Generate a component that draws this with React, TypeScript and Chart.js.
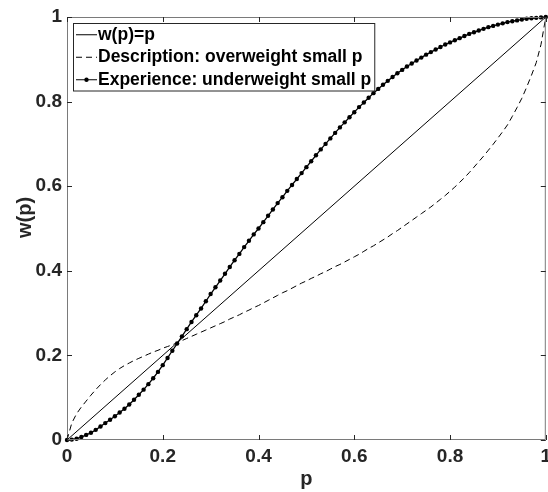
import React, { useEffect, useRef } from 'react';
import { Chart, registerables } from 'chart.js';

Chart.register(...registerables);

const pGrid = [
  0.00, 0.01, 0.02, 0.03, 0.04, 0.05, 0.06, 0.07, 0.08, 0.09,
  0.10, 0.11, 0.12, 0.13, 0.14, 0.15, 0.16, 0.17, 0.18, 0.19,
  0.20, 0.21, 0.22, 0.23, 0.24, 0.25, 0.26, 0.27, 0.28, 0.29,
  0.30, 0.31, 0.32, 0.33, 0.34, 0.35, 0.36, 0.37, 0.38, 0.39,
  0.40, 0.41, 0.42, 0.43, 0.44, 0.45, 0.46, 0.47, 0.48, 0.49,
  0.50, 0.51, 0.52, 0.53, 0.54, 0.55, 0.56, 0.57, 0.58, 0.59,
  0.60, 0.61, 0.62, 0.63, 0.64, 0.65, 0.66, 0.67, 0.68, 0.69,
  0.70, 0.71, 0.72, 0.73, 0.74, 0.75, 0.76, 0.77, 0.78, 0.79,
  0.80, 0.81, 0.82, 0.83, 0.84, 0.85, 0.86, 0.87, 0.88, 0.89,
  0.90, 0.91, 0.92, 0.93, 0.94, 0.95, 0.96, 0.97, 0.98, 0.99,
  1.00,
];

const experienceW = [
  0.000, 0.001, 0.003, 0.007, 0.012, 0.017, 0.024, 0.032, 0.040, 0.048,
  0.056, 0.065, 0.074, 0.084, 0.095, 0.107, 0.119, 0.132, 0.146, 0.161,
  0.177, 0.194, 0.211, 0.228, 0.245, 0.262, 0.279, 0.295, 0.311, 0.328,
  0.345, 0.361, 0.377, 0.393, 0.409, 0.425, 0.440, 0.456, 0.471, 0.486,
  0.500, 0.515, 0.530, 0.545, 0.560, 0.574, 0.589, 0.603, 0.617, 0.631,
  0.645, 0.659, 0.673, 0.687, 0.700, 0.713, 0.726, 0.739, 0.751, 0.763,
  0.775, 0.787, 0.798, 0.809, 0.820, 0.830, 0.840, 0.849, 0.858, 0.867,
  0.875, 0.883, 0.890, 0.897, 0.904, 0.911, 0.917, 0.923, 0.929, 0.935,
  0.940, 0.945, 0.950, 0.955, 0.960, 0.964, 0.968, 0.972, 0.976, 0.979,
  0.982, 0.985, 0.988, 0.990, 0.992, 0.994, 0.996, 0.997, 0.998, 0.999,
  1.000,
];

const descriptionW = [
  0.000, 0.040, 0.062, 0.078, 0.092, 0.106, 0.119, 0.131, 0.142, 0.152,
  0.161, 0.169, 0.176, 0.182, 0.188, 0.193, 0.198, 0.203, 0.208, 0.212,
  0.217, 0.221, 0.225, 0.230, 0.235, 0.240, 0.245, 0.250, 0.255, 0.260,
  0.265, 0.270, 0.275, 0.280, 0.286, 0.291, 0.296, 0.302, 0.307, 0.313,
  0.318, 0.324, 0.330, 0.336, 0.342, 0.348, 0.353, 0.359, 0.365, 0.371,
  0.376, 0.382, 0.387, 0.393, 0.398, 0.404, 0.410, 0.415, 0.421, 0.427,
  0.433, 0.439, 0.446, 0.453, 0.459, 0.466, 0.473, 0.480, 0.488, 0.495,
  0.503, 0.511, 0.519, 0.527, 0.535, 0.543, 0.551, 0.560, 0.569, 0.578,
  0.588, 0.598, 0.609, 0.620, 0.632, 0.645, 0.658, 0.671, 0.685, 0.699,
  0.714, 0.729, 0.745, 0.765, 0.786, 0.808, 0.834, 0.862, 0.892, 0.935,
  1.000,
];

const identityP = [0, 1];
const identityW = [0, 1];

const xTickLabels = ['0', '0.2', '0.4', '0.6', '0.8', '1'];
const yTickLabels = ['0', '0.2', '0.4', '0.6', '0.8', '1'];

const seriesLabels = [
  'w(p)=p',
  'Description: overweight small p',
  'Experience: underweight small p',
];

const xTitle = 'p';
const yTitle = 'w(p)';

const FONT = '"Liberation Sans", Arial, Helvetica, sans-serif';
const AXIS_COLOR = '#7a7a7a';
const TEXT_COLOR = '#262626';

const toPoints = (xs: number[], ys: number[]) => xs.map((x, i) => ({ x, y: ys[i] }));

const boxAndTicksPlugin = {
  id: 'boxAndTicks',
  afterDatasetsDraw(chart: any) {
    const { ctx, chartArea, scales } = chart;
    const { left, right, top, bottom } = chartArea;
    ctx.save();
    ctx.strokeStyle = AXIS_COLOR;
    ctx.lineWidth = 1;
    ctx.beginPath();
    ctx.rect(left + 0.5, top + 0.5, right - left - 1, bottom - top - 1);
    ctx.stroke();
    const tl = 5;
    ctx.strokeStyle = '#262626';
    ctx.beginPath();
    scales.x.ticks.forEach((t: any) => {
      const px = Math.round(scales.x.getPixelForValue(t.value)) + 0.5;
      ctx.moveTo(px, bottom);
      ctx.lineTo(px, bottom - tl);
      ctx.moveTo(px, top);
      ctx.lineTo(px, top + tl);
    });
    scales.y.ticks.forEach((t: any) => {
      const py = Math.round(scales.y.getPixelForValue(t.value)) + 0.5;
      ctx.moveTo(left, py);
      ctx.lineTo(left + tl, py);
      ctx.moveTo(right, py);
      ctx.lineTo(right - tl, py);
    });
    ctx.stroke();
    ctx.restore();
  },
};

const legendPlugin = {
  id: 'boxLegend',
  afterDraw(chart: any) {
    const { ctx, chartArea } = chart;
    const datasets = chart.data.datasets;
    const x0 = chartArea.left + 6;
    const y0 = chartArea.top + 6;
    const rowH = 22.5;
    const fontSize = 17.5;
    ctx.save();
    ctx.font = `bold ${fontSize}px ${FONT}`;
    let maxW = 0;
    datasets.forEach((d: any) => {
      maxW = Math.max(maxW, ctx.measureText(d.label).width);
    });
    const boxW = 25 + maxW + 3;
    const boxH = rowH * datasets.length;
    ctx.fillStyle = '#ffffff';
    ctx.fillRect(x0, y0, boxW, boxH);
    ctx.strokeStyle = '#262626';
    ctx.lineWidth = 1;
    ctx.strokeRect(x0 + 0.5, y0 + 0.5, boxW, boxH);
    datasets.forEach((d: any, i: number) => {
      const cy = y0 + rowH * (i + 0.5) + 0.5;
      ctx.strokeStyle = d.borderColor;
      ctx.lineWidth = 1;
      ctx.setLineDash(d.borderDash || []);
      ctx.beginPath();
      ctx.moveTo(x0 + 3, cy);
      ctx.lineTo(x0 + 24, cy);
      ctx.stroke();
      ctx.setLineDash([]);
      if (d.pointRadius > 0) {
        ctx.fillStyle = d.pointBackgroundColor;
        ctx.beginPath();
        ctx.arc(x0 + 13.5, cy, d.pointRadius, 0, Math.PI * 2);
        ctx.fill();
      }
      ctx.fillStyle = '#000000';
      ctx.textBaseline = 'middle';
      ctx.textAlign = 'left';
      ctx.fillText(d.label, x0 + 25, cy);
    });
    ctx.restore();
  },
};

export default function App() {
  const canvasRef = useRef<HTMLCanvasElement | null>(null);

  useEffect(() => {
    document.body.style.margin = '0';
    const canvas = canvasRef.current;
    if (!canvas) return;
    const chart = new Chart(canvas, {
      type: 'scatter',
      data: {
        datasets: [
          {
            label: seriesLabels[0],
            data: toPoints(identityP, identityW),
            showLine: true,
            borderColor: '#000000',
            backgroundColor: '#000000',
            borderWidth: 1,
            pointRadius: 0,
            pointHoverRadius: 0,
          },
          {
            label: seriesLabels[1],
            data: toPoints(pGrid, descriptionW),
            showLine: true,
            borderColor: '#000000',
            backgroundColor: '#000000',
            borderWidth: 1,
            borderDash: [6, 4],
            pointRadius: 0,
            pointHoverRadius: 0,
          },
          {
            label: seriesLabels[2],
            data: toPoints(pGrid, experienceW),
            showLine: true,
            borderColor: '#000000',
            backgroundColor: '#000000',
            pointBackgroundColor: '#000000',
            pointBorderColor: '#000000',
            borderWidth: 1.3,
            pointRadius: 2.2,
            pointBorderWidth: 0,
            pointHoverRadius: 2.2,
            clip: false as any,
          },
        ],
      },
      options: {
        animation: false,
        responsive: false,
        maintainAspectRatio: false,
        events: [],
        layout: { padding: { top: 17, right: 2, left: 0, bottom: 0 } },
        plugins: {
          legend: { display: false },
          tooltip: { enabled: false },
        },
        scales: {
          x: {
            type: 'linear',
            min: 0,
            max: 1,
            afterFit: (scale: any) => {
              scale.height = 52;
              scale.paddingLeft = 0;
              scale.paddingRight = 0;
            },
            grid: { display: false, drawTicks: false },
            border: { display: false },
            ticks: {
              stepSize: 0.2,
              autoSkip: false,
              maxRotation: 0,
              padding: 5,
              color: TEXT_COLOR,
              font: { family: FONT, size: 19, weight: 'bold' },
              callback: (_v: any, i: number) => xTickLabels[i],
            },
            title: {
              display: true,
              text: xTitle,
              color: TEXT_COLOR,
              font: { family: FONT, size: 20, weight: 'bold' },
              padding: { top: 0, bottom: 1 },
            },
          },
          y: {
            type: 'linear',
            min: 0,
            max: 1,
            afterFit: (scale: any) => {
              scale.width = 67;
              scale.paddingTop = 0;
              scale.paddingBottom = 0;
            },
            grid: { display: false, drawTicks: false },
            border: { display: false },
            ticks: {
              stepSize: 0.2,
              autoSkip: false,
              padding: 5,
              color: TEXT_COLOR,
              font: { family: FONT, size: 19, weight: 'bold' },
              callback: (_v: any, i: number) => yTickLabels[i],
            },
            title: {
              display: true,
              text: '    ' + yTitle,
              color: TEXT_COLOR,
              font: { family: FONT, size: 20, weight: 'bold' },
              padding: { top: 13, bottom: 0 },
            },
          },
        },
      },
      plugins: [boxAndTicksPlugin, legendPlugin],
    });
    return () => chart.destroy();
  }, []);

  return (
    <div style={{ position: 'absolute', left: 0, top: 0, width: 548, height: 492 }}>
      <canvas ref={canvasRef} width={548} height={492} style={{ width: 548, height: 492 }} />
    </div>
  );
}
